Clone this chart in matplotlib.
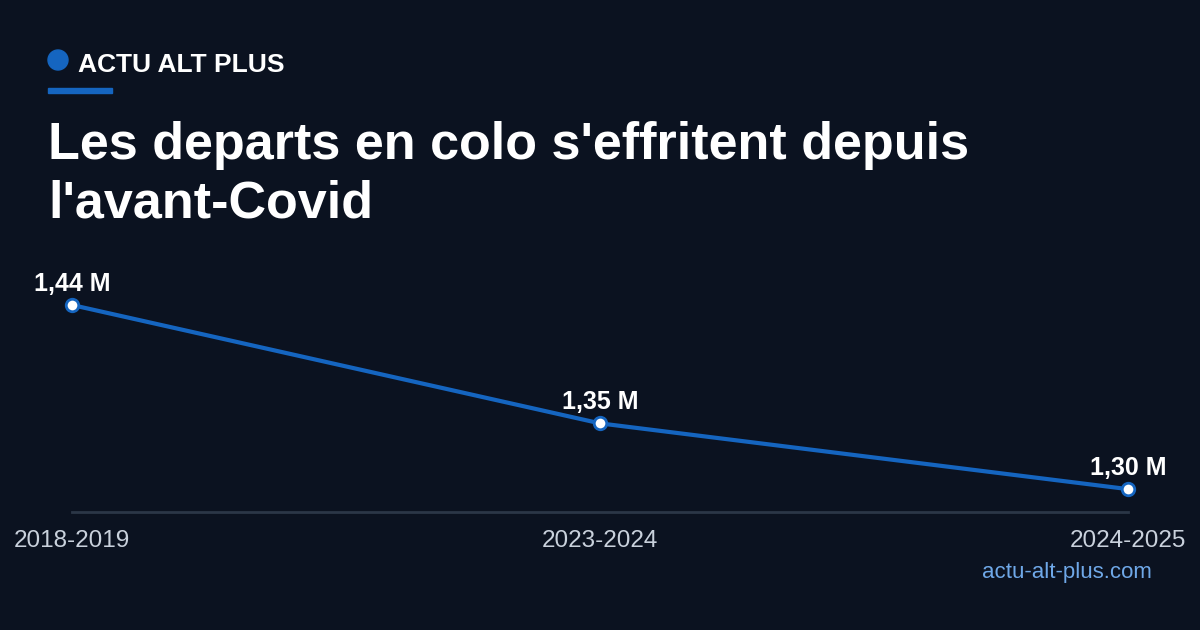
import matplotlib.pyplot as plt
from matplotlib.patches import Ellipse, Rectangle

# data
seasons = ['2018-2019', '2023-2024', '2024-2025']
departs = [1.44, 1.35, 1.30]
labels = ['1,44 M', '1,35 M', '1,30 M']

BG = '#0b1220'
BLUE = '#1565c0'
W, H = 1200, 630

plt.rcParams['font.family'] = ['Liberation Sans', 'DejaVu Sans']

fig = plt.figure(figsize=(12, 6.3), dpi=100, facecolor=BG)

# header (pixel positions converted to figure fractions)
fig.patches.append(Ellipse((58 / W, 1 - 60 / H), 20 / W, 20 / H,
                           transform=fig.transFigure, color=BLUE, zorder=3))
fig.patches.append(Rectangle((48 / W, 1 - 93 / H), 64 / W, 5 / H,
                             transform=fig.transFigure, color=BLUE))
fig.text(78 / W, 1 - 72 / H, 'ACTU ALT PLUS', color='white', fontsize=19,
         fontweight='bold', va='baseline')
fig.text(48 / W, 1 - 159 / H, "Les departs en colo s'effritent depuis", color='white',
         fontsize=37.5, fontweight='bold', va='baseline')
fig.text(48 / W, 1 - 217 / H, "l'avant-Covid", color='white',
         fontsize=37.5, fontweight='bold', va='baseline')
fig.text(1152 / W, 1 - 578 / H, 'actu-alt-plus.com', color='#6fa8e8',
         fontsize=16, ha='right', va='baseline')

ax = fig.add_axes([72 / W, 1 - 512 / H, 1056 / W, 207 / H])
ax.set_facecolor(BG)
x = list(range(len(seasons)))
ax.plot(x, departs, color=BLUE, lw=3, marker='o', ms=9, mfc='white', mec=BLUE,
        mew=2, clip_on=False, zorder=3)
for xi, yi, lab in zip(x, departs, labels):
    ax.annotate(lab, (xi, yi), xytext=(0, 10), textcoords='offset points',
                ha='center', va='baseline', color='white', fontsize=18,
                fontweight='bold')

ax.set_xlim(0, 2)
ax.set_ylim(1.2826, 1.44)
ax.set_xticks(x)
ax.set_xticklabels(seasons)
ax.set_yticks([])
ax.tick_params(axis='x', length=0, pad=13, labelsize=17.5, labelcolor='#c9d1dc')
for s in ['top', 'right', 'left']:
    ax.spines[s].set_visible(False)
ax.spines['bottom'].set_color('#2b3647')
ax.spines['bottom'].set_linewidth(2)

fig.savefig('out.png', dpi=100, facecolor=BG)
